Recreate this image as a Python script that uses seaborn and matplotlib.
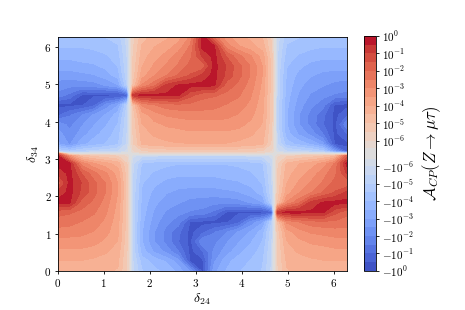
import numpy as np
import matplotlib
matplotlib.use('Agg')
import matplotlib.pyplot as plt
import seaborn as sns
from matplotlib.colors import Normalize

# phases on which the picture was read: steps of pi/12, plus one extra sample
# on each side of the lines where A_CP changes sign (the bands crowd there)
step_grid = list(np.linspace(0, 2 * np.pi, 25))
delta_24 = np.array(sorted(step_grid + [np.pi / 2 - 0.06, np.pi / 2 + 0.06,
                                        3 * np.pi / 2 - 0.06, 3 * np.pi / 2 + 0.06]))
delta_34 = np.array(sorted(step_grid + [np.pi - 0.06, np.pi + 0.06]))

# A_CP at every grid point, one row per delta_34 value
# (bottom row first). Stored as colour-bar position: sign(A) * (6.735 + log10|A|),
# so 10^0 -> 6.735, 10^-6 -> 0.735, 0 -> 0
a_cp_rows = [
    [2.4, 2.4, 2.4, 2.4, 2.3, 2.2, 1.1, 0, -1.1, -2.2, -2.6, -2.9, -3.4, -4.3, -6.4, -3.9, -3.2, -2.8, -2.5, -2.2, -1.1, 0, 1.1, 2.2, 2.3, 2.4, 2.4, 2.4, 2.4],
    [2.7, 2.7, 2.7, 2.6, 2.5, 2.3, 1.2, 0, -1.2, -2.5, -2.9, -3.3, -4.0, -6.3, -6.4, -4.3, -3.4, -3.0, -2.7, -2.3, -1.2, 0, 1.2, 2.3, 2.5, 2.6, 2.7, 2.7, 2.7],
    [3.1, 3.1, 3.1, 3.0, 2.8, 2.5, 1.2, 0, -1.4, -3.0, -3.8, -4.4, -5.2, -6.4, -5.8, -4.6, -4.0, -3.4, -3.0, -2.5, -1.2, 0, 1.2, 2.5, 2.8, 3.0, 3.0, 3.1, 3.1],
    [3.5, 3.5, 3.5, 3.4, 3.1, 2.7, 1.3, 0, -1.5, -3.2, -4.2, -4.9, -5.7, -6.4, -4.8, -4.9, -4.3, -3.8, -3.3, -2.7, -1.3, 0, 1.3, 2.7, 3.1, 3.3, 3.4, 3.5, 3.5],
    [4.0, 4.0, 3.9, 3.7, 3.4, 2.8, 1.4, 0, -1.5, -3.2, -4.2, -4.9, -5.6, -6.4, -5.9, -5.3, -4.8, -4.2, -3.7, -3.0, -1.4, 0, 1.4, 3.0, 3.5, 3.8, 3.9, 4.0, 4.0],
    [4.5, 4.4, 4.2, 4.0, 3.6, 2.9, 1.4, 0, -1.5, -3.1, -4.0, -4.6, -5.0, -6.3, -6.4, -6.4, -6.3, -5.9, -4.6, -3.8, -1.7, 0, 1.7, 3.8, 4.2, 4.5, 4.6, 4.6, 4.5],
    [4.9, 4.8, 4.6, 4.3, 3.8, 3.0, 1.4, 0, -1.4, -3.0, -3.8, -4.3, -4.6, -4.8, -4.9, -5.4, -6.3, -6.3, -6.4, -6.4, -6.0, 0, 6.0, 6.4, 6.4, 6.3, 6.3, 5.4, 4.9],
    [6.4, 6.3, 5.0, 4.6, 4.0, 3.1, 1.5, 0, -1.4, -2.9, -3.6, -4.0, -4.2, -4.4, -4.5, -4.6, -4.6, -4.5, -4.2, -3.8, -1.7, 0, 1.7, 3.8, 4.6, 5.9, 6.3, 6.4, 6.4],
    [5.9, 6.4, 5.6, 4.9, 4.2, 3.2, 1.5, 0, -1.4, -2.8, -3.4, -3.7, -3.9, -4.0, -4.0, -4.0, -3.9, -3.8, -3.5, -3.0, -1.4, 0, 1.4, 3.0, 3.7, 4.2, 4.8, 5.3, 5.9],
    [4.8, 6.4, 5.7, 4.9, 4.2, 3.2, 1.5, 0, -1.3, -2.7, -3.1, -3.4, -3.5, -3.5, -3.5, -3.5, -3.4, -3.3, -3.1, -2.7, -1.3, 0, 1.3, 2.7, 3.3, 3.8, 4.3, 4.9, 4.8],
    [5.8, 6.4, 5.2, 4.4, 3.8, 3.0, 1.4, 0, -1.2, -2.5, -2.8, -3.0, -3.1, -3.1, -3.1, -3.1, -3.0, -3.0, -2.8, -2.5, -1.2, 0, 1.2, 2.5, 3.0, 3.4, 4.0, 4.6, 5.8],
    [6.4, 6.3, 4.0, 3.3, 2.9, 2.5, 1.2, 0, -1.1, -2.3, -2.5, -2.6, -2.7, -2.7, -2.7, -2.7, -2.7, -2.6, -2.5, -2.3, -1.1, 0, 1.1, 2.3, 2.7, 3.0, 3.4, 4.3, 6.4],
    [6.4, 3.5, 2.0, 1.6, 1.4, 1.2, 0.6, 0, -0.6, -1.1, -1.2, -1.3, -1.3, -1.3, -1.3, -1.3, -1.3, -1.3, -1.2, -1.1, -0.6, 0, 0.6, 1.1, 1.3, 1.5, 1.7, 2.2, 5.0],
    [5.0, 0, 0, 0, 0, 0, 0, 0, 0, 0, 0, 0, 0, 0, 0, 0, 0, 0, 0, 0, 0, 0, 0, 0, 0, 0, 0, 0, 0],
    [-1.8, -2.1, -1.7, -1.5, -1.4, -1.2, -0.6, 0, 0.6, 1.1, 1.2, 1.3, 1.3, 1.3, 1.3, 1.3, 1.3, 1.3, 1.2, 1.1, 0.6, 0, -0.6, -1.2, -1.4, -1.6, -2.0, -4.0, -6.0],
    [-3.6, -4.3, -3.4, -3.0, -2.7, -2.3, -1.1, 0, 1.1, 2.3, 2.5, 2.6, 2.7, 2.7, 2.7, 2.7, 2.7, 2.6, 2.5, 2.3, 1.1, 0, -1.2, -2.5, -2.9, -3.3, -4.0, -6.3, -6.4],
    [-4.0, -4.6, -4.0, -3.4, -3.0, -2.5, -1.2, 0, 1.2, 2.5, 2.8, 3.0, 3.0, 3.1, 3.1, 3.1, 3.1, 3.0, 2.8, 2.5, 1.2, 0, -1.4, -3.0, -3.8, -4.4, -5.2, -6.4, -5.8],
    [-4.4, -4.9, -4.3, -3.8, -3.3, -2.7, -1.3, 0, 1.3, 2.7, 3.1, 3.3, 3.4, 3.5, 3.5, 3.5, 3.5, 3.4, 3.1, 2.7, 1.3, 0, -1.5, -3.2, -4.2, -4.9, -5.7, -6.4, -4.8],
    [-5.9, -5.3, -4.8, -4.2, -3.7, -3.0, -1.4, 0, 1.4, 3.0, 3.5, 3.8, 3.9, 4.0, 4.0, 4.0, 3.9, 3.7, 3.4, 2.8, 1.4, 0, -1.5, -3.2, -4.2, -4.9, -5.6, -6.4, -5.9],
    [-6.4, -6.4, -6.3, -5.9, -4.6, -3.8, -1.7, 0, 1.7, 3.8, 4.2, 4.5, 4.6, 4.6, 4.5, 4.4, 4.2, 4.0, 3.6, 2.9, 1.4, 0, -1.5, -3.1, -4.0, -4.6, -5.0, -6.3, -6.4],
    [-4.9, -5.4, -6.3, -6.3, -6.4, -6.4, -6.0, 0, 6.0, 6.4, 6.4, 6.3, 6.3, 5.4, 4.9, 4.8, 4.6, 4.3, 3.8, 3.0, 1.4, 0, -1.4, -3.0, -3.8, -4.3, -4.6, -4.8, -4.9],
    [-4.5, -4.6, -4.6, -4.5, -4.2, -3.8, -1.7, 0, 1.7, 3.8, 4.6, 5.9, 6.3, 6.4, 6.4, 6.3, 5.0, 4.6, 4.0, 3.1, 1.5, 0, -1.4, -2.9, -3.6, -4.0, -4.2, -4.4, -4.5],
    [-4.0, -4.0, -3.9, -3.8, -3.5, -3.0, -1.4, 0, 1.4, 3.0, 3.7, 4.2, 4.8, 5.3, 5.9, 6.4, 5.6, 4.9, 4.2, 3.2, 1.5, 0, -1.4, -2.8, -3.4, -3.7, -3.9, -4.0, -4.0],
    [-3.5, -3.5, -3.4, -3.3, -3.1, -2.7, -1.3, 0, 1.3, 2.7, 3.3, 3.8, 4.3, 4.9, 4.8, 6.4, 5.7, 4.9, 4.2, 3.2, 1.5, 0, -1.3, -2.7, -3.1, -3.4, -3.5, -3.5, -3.5],
    [-3.1, -3.1, -3.0, -3.0, -2.8, -2.5, -1.2, 0, 1.2, 2.5, 3.0, 3.4, 4.0, 4.6, 5.8, 6.4, 5.2, 4.4, 3.8, 3.0, 1.4, 0, -1.2, -2.5, -2.8, -3.0, -3.1, -3.1, -3.1],
    [-2.7, -2.7, -2.7, -2.6, -2.5, -2.3, -1.1, 0, 1.1, 2.3, 2.7, 3.0, 3.4, 4.3, 6.4, 6.3, 4.0, 3.3, 2.9, 2.5, 1.2, 0, -1.1, -2.3, -2.5, -2.6, -2.7, -2.7, -2.7],
    [-2.4, -2.4, -2.4, -2.3, -2.2, -2.0, -1.0, 0, 1.0, 2.0, 2.4, 2.6, 3.0, 3.8, 6.4, 4.5, 3.4, 2.9, 2.6, 2.2, 1.1, 0, -1.0, -2.0, -2.2, -2.3, -2.4, -2.4, -2.4],
]

# colour-bar decades shown as ticks
cbar_exponents = [0, -1, -2, -3, -4, -5, -6]

sns.set_style('ticks', rc={'axes.edgecolor': 'black', 'text.color': 'black',
                           'xtick.color': 'black', 'ytick.color': 'black',
                           'axes.labelcolor': 'black'})
plt.rcParams['font.family'] = 'serif'
plt.rcParams['font.serif'] = ['cmr10', 'DejaVu Serif']
plt.rcParams['mathtext.fontset'] = 'cm'
plt.rcParams['axes.formatter.use_mathtext'] = True
plt.rcParams['axes.linewidth'] = 0.6

lin_half = 0.735                 # half width of the linear part around zero
top = lin_half + 6               # position of 10^0
half_decades = np.arange(-6, 0.5, 0.5)
pos_levels = list(lin_half + 6 + half_decades)
levels = [-v for v in pos_levels[::-1]] + [-0.3, 0.3] + pos_levels

z = np.array(a_cp_rows)
cmap = sns.color_palette('coolwarm', as_cmap=True)

fig = plt.figure(figsize=(4.65, 3.1), dpi=100)
ax = fig.add_axes([0.124, 0.126, 0.622, 0.756])
cax = fig.add_axes([0.783, 0.126, 0.026, 0.758])

cs = ax.contourf(delta_24, delta_34, z, levels=levels, cmap=cmap,
                 norm=Normalize(-top, top))
ax.set_xlim(0, 2 * np.pi)
ax.set_ylim(0, 2 * np.pi)
ax.set_xticks(range(7))
ax.set_yticks(range(7))
ax.tick_params(labelsize=8, length=2.5, width=0.6, pad=2)
ax.set_xlabel(r'$\delta_{24}$', fontsize=10, labelpad=2)
ax.set_ylabel(r'$\delta_{34}$', fontsize=10, labelpad=2)

tick_pos = [lin_half + 6 + e for e in cbar_exponents]
tick_lab = [r'$10^{%d}$' % e for e in cbar_exponents]
tick_pos = tick_pos + [-p for p in tick_pos[::-1]]
tick_lab = tick_lab + [r'$-10^{%d}$' % e for e in cbar_exponents[::-1]]

cbar = fig.colorbar(cs, cax=cax, spacing='proportional', ticks=tick_pos)
cbar.ax.set_yticklabels(tick_lab)
cbar.ax.tick_params(labelsize=8, length=2.5, width=0.6, pad=2)
cbar.ax.minorticks_off()
cbar.outline.set_linewidth(0.6)
cbar.set_label(r'$\mathcal{A}_{CP}(Z\to\mu\tau)$', fontsize=12, labelpad=4)

fig.savefig('out.png', dpi=100)
